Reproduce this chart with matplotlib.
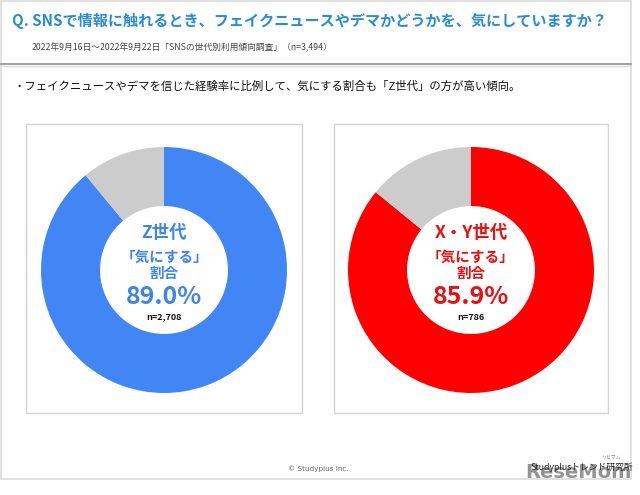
import matplotlib
matplotlib.use("Agg")
import matplotlib.pyplot as plt
from matplotlib.patches import Rectangle

plt.rcParams['font.family'] = ['Noto Sans CJK JP', 'DejaVu Sans']

title = "Q. SNSで情報に触れるとき、フェイクニュースやデマかどうかを、気にしていますか？"
subtitle = "2022年9月16日～2022年9月22日「SNSの世代別利用傾向調査」（n=3,494）"
bullet = "・フェイクニュースやデマを信じた経験率に比例して、気にする割合も「Z世代」の方が高い傾向。"

groups = ["Z世代", "X・Y世代"]
care_pct = [89.0, 85.9]
n_labels = ["n=2,708", "n=786"]
main_colors = ["#4285F4", "#FF0000"]
text_colors = ["#3F86E6", "#E81010"]
rest_color = "#CCCCCC"

W, H = 640, 495
fig = plt.figure(figsize=(6.4, 4.95), dpi=100)
bg = fig.add_axes([0, 0, 1, 1])
bg.set_xlim(0, W)
bg.set_ylim(H, 0)
bg.axis('off')

# slide border
bg.add_patch(Rectangle((1, 1), 630, 478, fill=False, ec="#dddddd", lw=1.2))
# header lines
bg.plot([1, 631], [63.5, 63.5], color="#9a9a9a", lw=1.3)
bg.plot([1, 631], [65.5, 65.5], color="#dddddd", lw=1.0)

bg.text(12, 21, title, fontsize=10.9, fontweight='bold', color="#2A8BD8",
        ha='left', va='center')
bg.text(32, 48, subtitle, fontsize=6.3, color="#444444", ha='left', va='center')
bg.text(13, 86, bullet, fontsize=8.2, color="#111111", ha='left', va='center')

# panels
panels = [(26, 124, 276, 289), (334, 124, 274, 289)]
for (x, y, w, h) in panels:
    bg.add_patch(Rectangle((x, y), w, h, fill=False, ec="#d4d4d4", lw=1.0))

centers = [(164, 270), (471, 270)]
R = 123
for i, (cx, cy) in enumerate(centers):
    ax = fig.add_axes([(cx - R) / W, (H - cy - R) / H, 2 * R / W, 2 * R / H])
    ax.pie([care_pct[i], 100 - care_pct[i]], colors=[main_colors[i], rest_color],
           startangle=90, counterclock=False, radius=1.0,
           wedgeprops=dict(width=0.48, edgecolor='none'))
    ax.set_xlim(-1, 1)
    ax.set_ylim(-1, 1)
    ax.set_aspect('equal')
    ax.axis('off')
    tc = text_colors[i]
    bg.text(cx, cy - 37, groups[i], fontsize=12.5, fontweight='bold', color=tc,
            ha='center', va='center', zorder=5)
    bg.text(cx, cy - 13, "「気にする」", fontsize=10.5, fontweight='bold', color=tc,
            ha='center', va='center', zorder=5)
    bg.text(cx, cy + 3, "割合", fontsize=10.5, fontweight='bold', color=tc,
            ha='center', va='center', zorder=5)
    bg.text(cx, cy + 27, f"{care_pct[i]:.1f}%", fontsize=18, fontweight='bold', color=tc,
            ha='center', va='center', zorder=5)
    bg.text(cx, cy + 47, n_labels[i], fontsize=6.5, fontweight='bold', color="#111111",
            ha='center', va='center', zorder=5)

bg.set_zorder(3)
bg.patch.set_alpha(0)

# footer
bg.text(318, 469, "© Studyplus Inc.", fontsize=5.2, color="#666666",
        ha='center', va='center', family=['DejaVu Sans'])
bg.text(578, 472, "ReseMom", fontsize=14, fontweight='bold', color="#7a7a7a",
        ha='center', va='center', alpha=0.8, family=['DejaVu Sans'])
bg.text(582, 467, "Studyplusトレンド研究所", fontsize=6.3, color="#222222",
        ha='center', va='center')
bg.text(612, 457, "リセマム", fontsize=3.5, color="#888888", ha='center', va='center')

fig.savefig("out.png", dpi=100)
